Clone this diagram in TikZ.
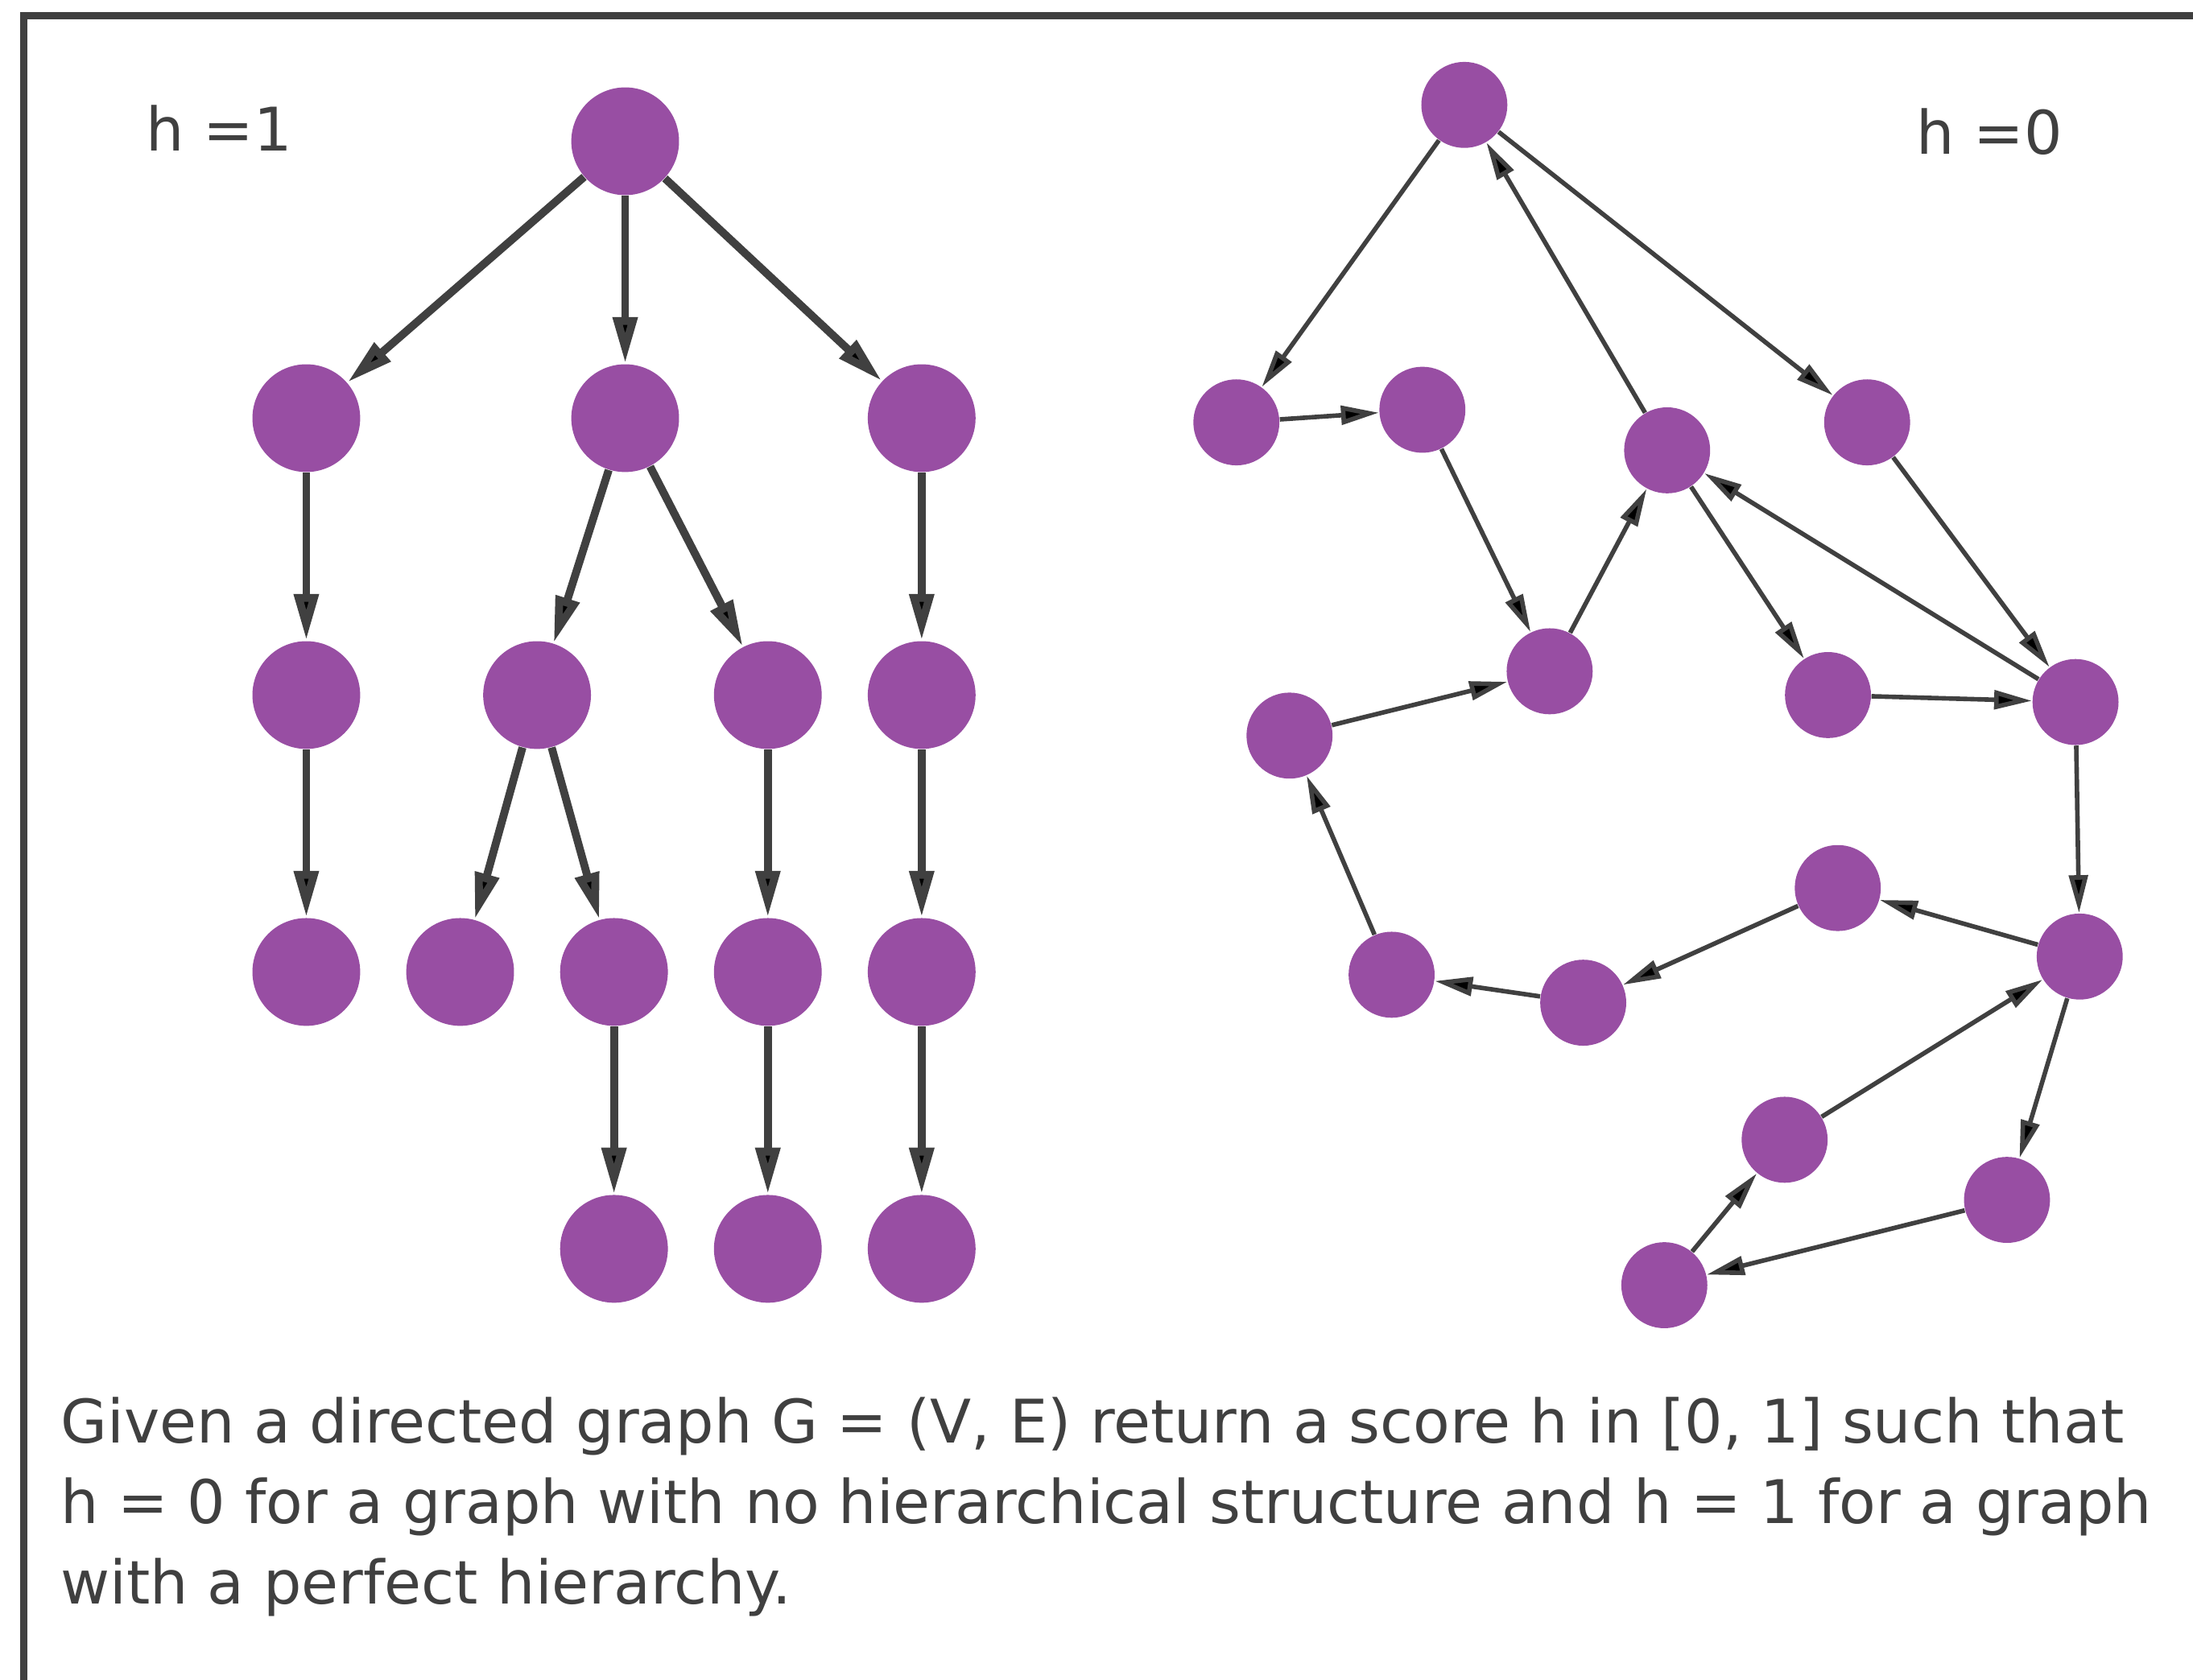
\documentclass[tikz,border=0pt]{standalone}
\usepackage{fontspec}
\setmainfont{DejaVu Sans}
\usetikzlibrary{arrows.meta}
\definecolor{nodepurple}{HTML}{984EA3}
\definecolor{edgegray}{HTML}{404040}
\begin{document}
\begin{tikzpicture}[x=0.017372cm,y=-0.017372cm]
        \tikzstyle{treenode}=[circle,fill=nodepurple,inner sep=0pt,minimum size=1.338cm]
        \tikzstyle{mixnode}=[circle,fill=nodepurple,inner sep=0pt,minimum size=1.068cm]
        \tikzstyle{treeedge}=[draw=edgegray,line width=2.8pt,-{Triangle[length=0.58cm,width=0.29cm]}]
        \tikzstyle{mixedge}=[draw=edgegray,line width=1.6pt,-{Triangle[length=0.47cm,width=0.23cm]}]
        \tikzstyle{htext}=[font=\fontsize{21.25}{27}\selectfont,text=edgegray,inner sep=0pt,anchor=base west]
        \useasboundingbox (0,0) rectangle (1568,1200.8);
        \draw[edgegray,line width=2.6pt] (17,1260) -- (17,11) -- (1620,11);
       % h = 1: a tree
       \begin{scope}
         \node [treenode] (r) at (447,101) {};
         \node [treenode] (a1) at (219,299) {};
         \node [treenode] (a2) at (447,299) {};
         \node [treenode] (a3) at (659,299) {};
         \node [treenode] (b1) at (219,497) {};
         \node [treenode] (b2) at (384,497) {};
         \node [treenode] (b3) at (549,497) {};
         \node [treenode] (b4) at (659,497) {};
         \node [treenode] (c1) at (219,695) {};
         \node [treenode] (c2) at (329,695) {};
         \node [treenode] (c3) at (439,695) {};
         \node [treenode] (c4) at (549,695) {};
         \node [treenode] (c5) at (659,695) {};
         \node [treenode] (d1) at (439,893) {};
         \node [treenode] (d2) at (549,893) {};
         \node [treenode] (d3) at (659,893) {};

         \path[treeedge] (r) edge (a1) (r) edge (a2) (r) edge (a3);
         \path[treeedge] (a1) edge (b1) (b1) edge (c1);
         \path[treeedge] (a2) edge (b2) (a2) edge (b3) (a3) edge (b4);
         \path[treeedge] (b2) edge (c2) (b2) edge (c3) (b3) edge (c4) (b4) edge (c5);
         \path[treeedge] (c3) edge (d1) (c4) edge (d2) (c5) edge (d3);

         \node [htext] (hone) at (104,108) {h =1};
        \end{scope}
       % h = 0: no hierarchy
       \begin{scope}
         \node [mixnode] (m1) at (1047,75) {};
         \node [mixnode] (m2) at (884,302) {};
         \node [mixnode] (m3) at (1017,293) {};
         \node [mixnode] (m4) at (1192,322) {};
         \node [mixnode] (m5) at (1335,302) {};
         \node [mixnode] (m6) at (1108,480) {};
         \node [mixnode] (m7) at (922,526) {};
         \node [mixnode] (m8) at (1307,497) {};
         \node [mixnode] (m9) at (1484,502) {};
         \node [mixnode] (m10) at (1314,635) {};
         \node [mixnode] (m11) at (1487,684) {};
         \node [mixnode] (m12) at (995,697) {};
         \node [mixnode] (m13) at (1132,717) {};
         \node [mixnode] (m14) at (1276,815) {};
         \node [mixnode] (m15) at (1435,858) {};
         \node [mixnode] (m16) at (1190,919) {};

         \path[mixedge] (m1) edge (m2) (m2) edge (m3) (m3) edge (m6) (m6) edge (m4);
         \path[mixedge] (m4) edge (m1) (m1) edge (m5) (m4) edge (m8) (m8) edge (m9);
         \path[mixedge] (m9) edge (m4) (m5) edge (m9) (m9) edge (m11) (m11) edge (m10);
         \path[mixedge] (m10) edge (m13) (m13) edge (m12) (m12) edge (m7) (m7) edge (m6);
         \path[mixedge] (m11) edge (m15) (m15) edge (m16) (m16) edge (m14) (m14) edge (m11);

         \node [htext] (hzero) at (1370,110) {h =0};
        \end{scope}
        % caption
        \node [htext] (cap1) at (43,1032) {Given a directed graph G = (V, E) return a score h in [0, 1] such that};
        \node [htext] (cap2) at (43,1089.6) {h = 0 for a graph with no hierarchical structure and h = 1 for a graph};
        \node [htext] (cap3) at (43,1147.1) {with a perfect hierarchy.};
      \end{tikzpicture}
\end{document}
